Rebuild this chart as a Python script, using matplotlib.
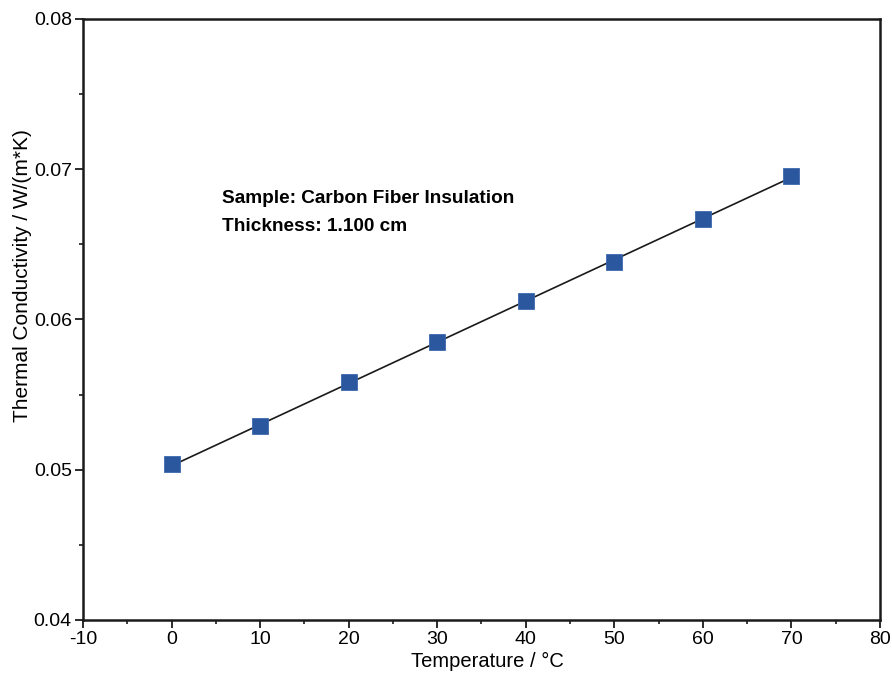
import numpy as np
import matplotlib
matplotlib.use("Agg")
import matplotlib.pyplot as plt
from matplotlib.ticker import MultipleLocator

plt.rcParams['font.family'] = ['Liberation Sans', 'DejaVu Sans']
plt.rcParams['axes.unicode_minus'] = False

temperature = [0, 10, 20, 30, 40, 50, 60, 70]
conductivity = [0.05037, 0.05289, 0.05581, 0.05847, 0.0612, 0.06385, 0.06671, 0.06957]
x_ticks = [-10, 0, 10, 20, 30, 40, 50, 60, 70, 80]
y_ticks = [0.04, 0.05, 0.06, 0.07, 0.08]
y_tick_labels = ['0.04', '0.05', '0.06', '0.07', '0.08']

fig = plt.figure(figsize=(8.92, 6.73), dpi=100)
ax = fig.add_axes([0.093, 0.0788, 0.8935, 0.893])

coef = np.polyfit(temperature, conductivity, 1)
xs = np.array([temperature[0], temperature[-1]])
ax.plot(xs, np.polyval(coef, xs), color='#1a1a1a', lw=1.2, zorder=2)
ax.plot(temperature, conductivity, ls='none', marker='s', ms=11.5,
        mfc='#2b579f', mec='#3d68ad', mew=0.6, zorder=3)

ax.set_xlim(-10, 80)
ax.set_ylim(0.04, 0.08)
ax.set_xticks(x_ticks)
ax.set_yticks(y_ticks)
ax.set_yticklabels(y_tick_labels)
ax.xaxis.set_minor_locator(MultipleLocator(5))
ax.yaxis.set_minor_locator(MultipleLocator(0.005))
ax.tick_params(which='major', direction='out', length=6, width=1.3, labelsize=14, color='#1a1a1a', pad=2)
ax.tick_params(which='minor', direction='out', length=3, width=1.2, color='#1a1a1a')
for s in ax.spines.values():
    s.set_linewidth(1.8)
    s.set_color('#1a1a1a')

ax.set_xlabel('Temperature / \u00b0C', fontsize=14.5)
ax.set_ylabel('Thermal Conductivity / W/(m*K)', fontsize=15)
ax.xaxis.set_label_coords(0.508, -0.053)
ax.yaxis.set_label_coords(-0.064, 0.573)

ax.text(0.1744, 0.701, 'Sample: Carbon Fiber Insulation', transform=ax.transAxes,
        fontsize=13.7, fontweight='bold', va='center', ha='left')
ax.text(0.1744, 0.654, 'Thickness: 1.100 cm', transform=ax.transAxes,
        fontsize=13.7, fontweight='bold', va='center', ha='left')

fig.savefig('out.png', dpi=100)
